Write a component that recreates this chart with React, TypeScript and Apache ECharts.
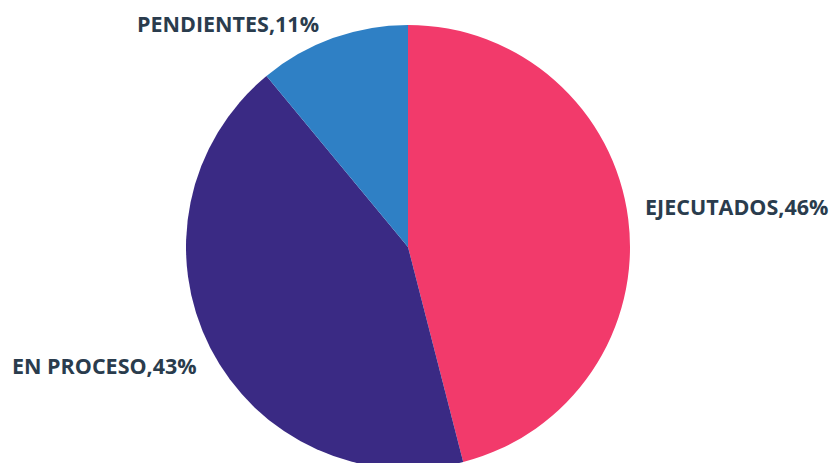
import React, { useEffect, useRef } from "react";
import * as echarts from "echarts";

const categories = ["EJECUTADOS", "EN PROCESO", "PENDIENTES"];
const values = [46, 43, 11];
const colors = ["#F23A6B", "#3A2A84", "#2F80C5"];
const labelSpots = [
  { x: 645, y: 206, align: "left" },
  { x: 12, y: 365, align: "left" },
  { x: 137, y: 23, align: "left" },
];

export default function App() {
  const ref = useRef<HTMLDivElement>(null);
  useEffect(() => {
    if (!ref.current) return;
    const chart = echarts.init(ref.current, null, { renderer: "svg" });
    chart.setOption({
      animation: false,
      backgroundColor: "#ffffff",
      series: [
        {
          type: "pie",
          center: [408, 247],
          radius: 222,
          startAngle: 90,
          clockwise: true,
          avoidLabelOverlap: false,
          data: categories.map((name, i) => ({
            name,
            value: values[i],
            itemStyle: { color: colors[i] },
          })),
          label: {
            show: true,
            position: "outside",
            overflow: "none",
            formatter: (p: any) => `${p.name},${p.value}%`,
            color: "#2A3C4D",
            fontFamily: "Open Sans",
            fontWeight: "bold",
            fontSize: 21.5,
          },
          labelLine: { show: false },
          labelLayout: (params: any) => {
            const s = labelSpots[params.dataIndex];
            return { x: s.x, y: s.y, align: s.align, verticalAlign: "middle" };
          },
          emphasis: { disabled: true },
        },
      ],
    });
    return () => chart.dispose();
  }, []);
  return (
    <div
      ref={ref}
      style={{ position: "fixed", left: 0, top: 0, width: 834, height: 463 }}
    />
  );
}
